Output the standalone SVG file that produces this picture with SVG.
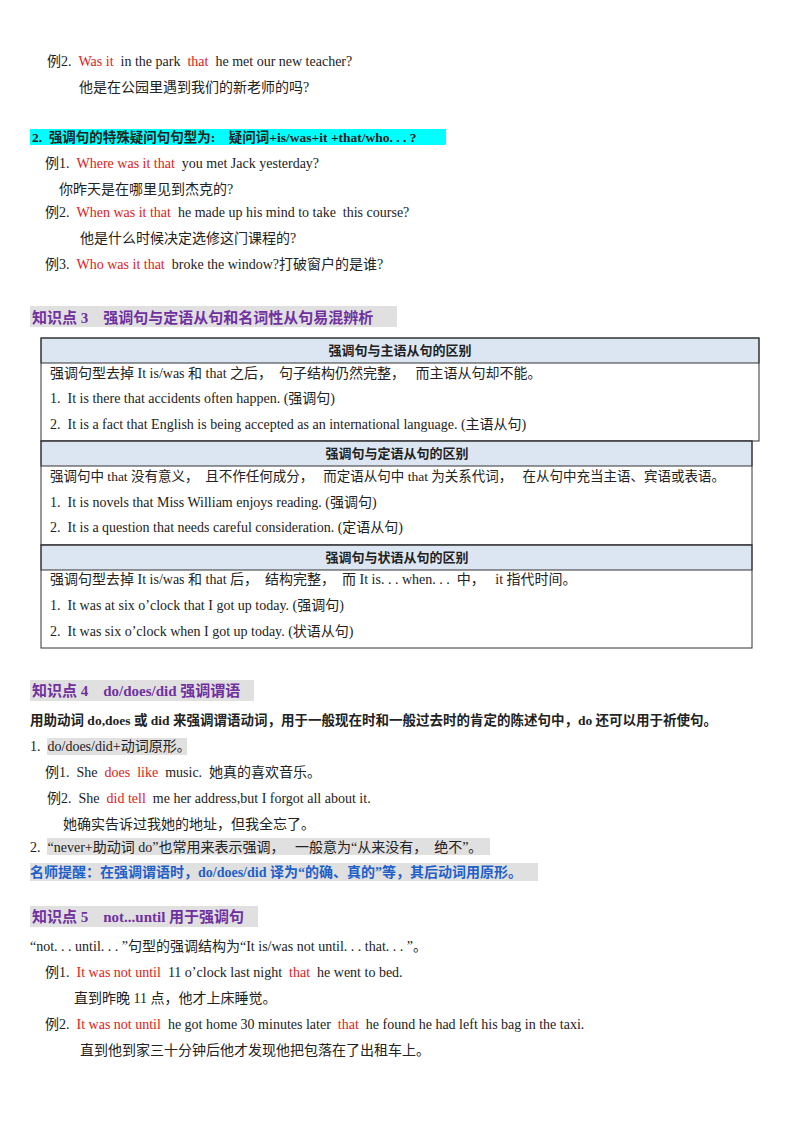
<svg xmlns="http://www.w3.org/2000/svg" width="800" height="1132" viewBox="0 0 800 1132" xml:space="preserve">
<style>
text{font-family:"Liberation Serif","Noto Sans CJK SC",serif;font-size:14px;fill:#222;white-space:pre}
.r{fill:#e02020}
.b{font-weight:bold}
.h{font-weight:bold;fill:#7030a0;font-size:15px}
.th{font-weight:bold;font-size:13px;text-anchor:middle}
.hd{fill:#dce6f2;stroke:#333;stroke-width:1}
.bx{fill:none;stroke:#333;stroke-width:1}
.gr{fill:#e0e0e0}
</style>
<rect width="800" height="1132" fill="#fff"/>
<g id="ex2"><text x="47" y="66">例2.  <tspan class="r">Was it</tspan>  in the park  <tspan class="r">that</tspan>  he met our new teacher?</text>
<text x="79" y="92">他是在公园里遇到我们的新老师的吗?</text></g>
<g id="sec2">
<rect x="30" y="129" width="416" height="16" fill="#00ffff"/>
<text x="32" y="142" class="b" style="font-size:13.5px">2.  强调句的特殊疑问句句型为:    疑问词+is/was+it +that/who. . . ?</text>
<text x="45" y="168">例1.  <tspan class="r">Where was it that</tspan>  you met Jack yesterday?</text>
<text x="59" y="194">你昨天是在哪里见到杰克的?</text>
<text x="45" y="217">例2.  <tspan class="r">When was it that</tspan>  he made up his mind to take  this course?</text>
<text x="80" y="243">他是什么时候决定选修这门课程的?</text>
<text x="45" y="269">例3.  <tspan class="r">Who was it that</tspan>  broke the window?打破窗户的是谁?</text>
</g>
<g id="k3">
<rect x="30" y="306" width="367" height="21" class="gr"/>
<text x="32" y="323" class="h">知识点 3    强调句与定语从句和名词性从句易混辨析</text>
</g>
<g id="t1">
<rect x="41" y="338" width="718" height="25" class="hd"/>
<rect x="41" y="338" width="718" height="103" class="bx"/>
<text x="400" y="355" class="th">强调句与主语从句的区别</text>
<text x="50" y="378">强调句型去掉 It is/was 和 that 之后，  句子结构仍然完整，   而主语从句却不能。</text>
<text x="50" y="403">1.  It is there that accidents often happen. (强调句)</text>
<text x="50" y="429">2.  It is a fact that English is being accepted as an international language. (主语从句)</text>
</g>
<g id="t2">
<rect x="41" y="441" width="711" height="25" class="hd"/>
<rect x="41" y="441" width="711" height="104" class="bx"/>
<text x="397" y="458" class="th">强调句与定语从句的区别</text>
<text x="50" y="481" style="font-size:13.5px">强调句中 that 没有意义，  且不作任何成分，   而定语从句中 that 为关系代词，   在从句中充当主语、宾语或表语。</text>
<text x="50" y="507">1.  It is novels that Miss William enjoys reading. (强调句)</text>
<text x="50" y="532">2.  It is a question that needs careful consideration. (定语从句)</text>
</g>
<g id="t3">
<rect x="41" y="545" width="711" height="25" class="hd"/>
<rect x="41" y="545" width="711" height="103" class="bx"/>
<text x="397" y="562" class="th">强调句与状语从句的区别</text>
<text x="50" y="584">强调句型去掉 It is/was 和 that 后，  结构完整，  而 It is. . . when. . .  中，   it 指代时间。</text>
<text x="50" y="610">1.  It was at six o’clock that I got up today. (强调句)</text>
<text x="50" y="636">2.  It was six o’clock when I got up today. (状语从句)</text>
</g>
<g id="k4">
<rect x="30" y="680" width="224" height="21" class="gr"/>
<text x="32" y="696" class="h">知识点 4    do/does/did 强调谓语</text>
<text x="30" y="725" class="b" style="font-size:13.5px">用助动词 do,does 或 did 来强调谓语动词，用于一般现在时和一般过去时的肯定的陈述句中，do 还可以用于祈使句。</text>
<rect x="47" y="738" width="140" height="17" class="gr"/>
<text x="30" y="751">1.  do/does/did+动词原形。</text>
<text x="45" y="777">例1.  She  <tspan class="r">does  like</tspan>  music.  她真的喜欢音乐。</text>
<text x="47" y="803">例2.  She  <tspan class="r">did tell</tspan>  me her address,but I forgot all about it.</text>
<text x="63" y="829">她确实告诉过我她的地址，但我全忘了。</text>
<rect x="47" y="838" width="443" height="17" class="gr"/>
<text x="30" y="852">2.  “never+助动词 do”也常用来表示强调，   一般意为“从来没有，  绝不”。</text>
<rect x="30" y="863" width="508" height="18" class="gr"/>
<text x="30" y="877" class="b" style="fill:#1f5fc8">名师提醒：在强调谓语时，do/does/did 译为“的确、真的”等，其后动词用原形。</text>
</g>
<g id="k5">
<rect x="30" y="906" width="228" height="21" class="gr"/>
<text x="32" y="922" class="h">知识点 5    not...until 用于强调句</text>
<text x="30" y="951">“not. . . until. . . ”句型的强调结构为“It is/was not until. . . that. . . ”。</text>
<text x="45" y="977">例1.  <tspan class="r">It was not until</tspan>  11 o’clock last night  <tspan class="r">that</tspan>  he went to bed.</text>
<text x="74" y="1003">直到昨晚 11 点，他才上床睡觉。</text>
<text x="45" y="1029">例2.  <tspan class="r">It was not until</tspan>  he got home 30 minutes later  <tspan class="r">that</tspan>  he found he had left his bag in the taxi.</text>
<text x="80" y="1055">直到他到家三十分钟后他才发现他把包落在了出租车上。</text>
</g>
</svg>
